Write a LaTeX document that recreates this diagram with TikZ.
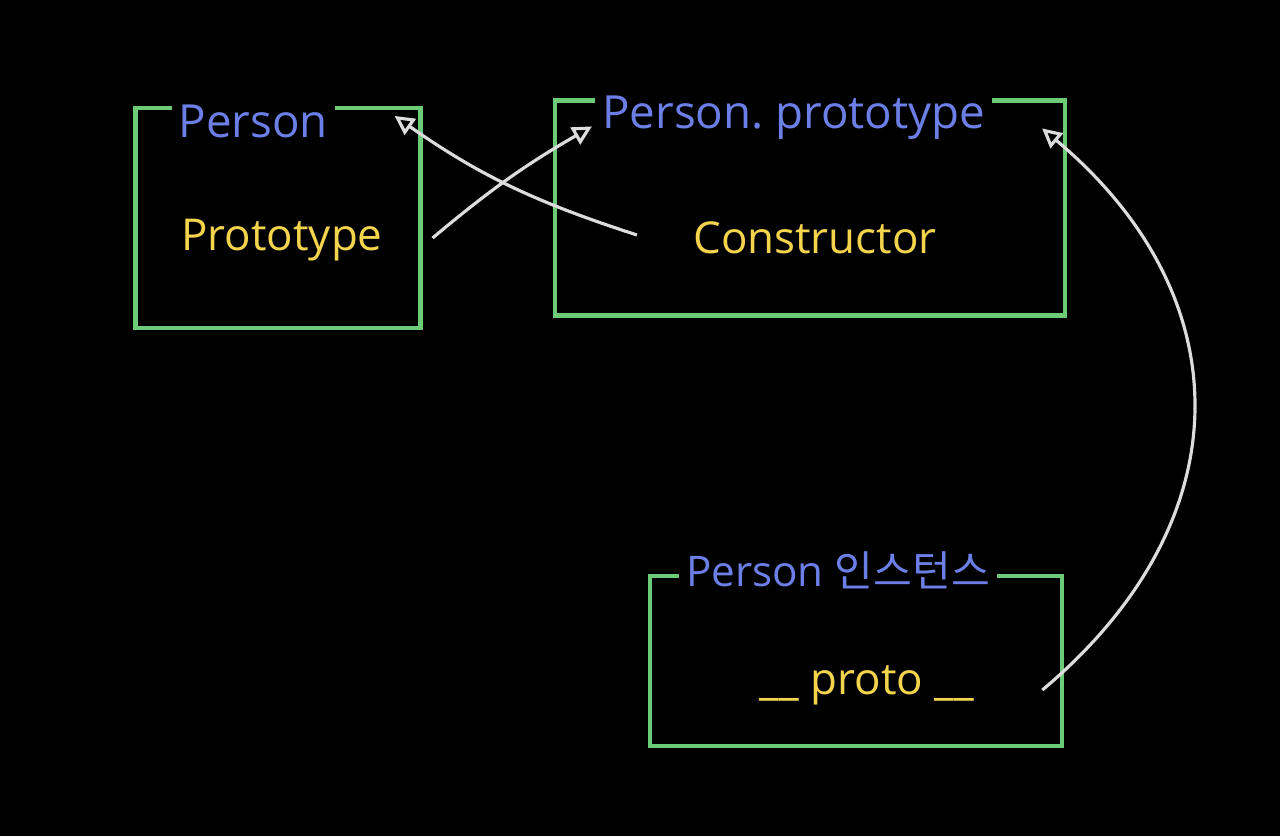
\documentclass[tikz,border=0pt]{standalone}
\usepackage{fontspec}
\setmainfont{Open Sans}
\newfontfamily\krfont{Noto Sans CJK KR}
\usetikzlibrary{positioning,arrows.meta}
\definecolor{boxgreen}{HTML}{6CCB77}
\definecolor{titleblue}{HTML}{6B7FE6}
\definecolor{propyellow}{HTML}{F4D44C}
\definecolor{linkgray}{HTML}{DCDCDC}

\begin{document}
\begin{tikzpicture}[x=0.02cm, y=-0.02cm,
    objbox/.style={draw=boxgreen, line width=2.4pt, rectangle},
    title/.style={fill=black, text=titleblue, inner sep=4pt, anchor=base west, font=\fontsize{26}{30}\selectfont},
    prop/.style={text=propyellow, font=\fontsize{25}{30}\selectfont},
    link/.style={draw=linkgray, line width=1.8pt, -{Triangle[open, length=11pt, width=11pt]}}]
    \fill[black] (0,0) rectangle (1280,836);

    % boxes
    \node (personbox) [objbox, minimum width=5.7cm, minimum height=4.4cm] at (278,218) {};
    \node (protobox) [objbox, minimum width=10.2cm, minimum height=4.3cm] at (810,208) {};
    \node (instbox) [objbox, minimum width=8.25cm, minimum height=3.4cm] at (856,661) {};

    % titles sit on the top edge
    \node (persontitle) [title] at ([shift={(38,32)}]personbox.north west) {Person};
    \node (prototitle) [title] at ([shift={(42,30)}]protobox.north west) {Person.\ prototype};
    \node (insttitle) [title, font=\fontsize{24}{28}\selectfont] at ([shift={(31,13)}]instbox.north west) {Person {\krfont 인스턴스}};

    % properties
    \node (protoprop) [prop] at ([shift={(4,22)}]personbox.center) {Prototype};
    \node (ctorprop) [prop] at ([shift={(5,30)}]protobox.center) {Constructor};
    \node (dunderprop) [prop] at ([shift={(11,24)}]instbox.center) {\_\_\ proto\ \_\_};

    % links
    \draw[link] ([shift={(10,20)}]personbox.east) to[out=40, in=210] ([shift={(39,28)}]protobox.north west);
    \draw[link] ([shift={(84,27)}]protobox.west) to[out=162, in=-35] ([shift={(-28,10)}]personbox.north east);
    \draw[link] ([shift={(-22,29)}]instbox.east) to[out=40, in=-40, looseness=1.2] ([shift={(-25,30)}]protobox.north east);
\end{tikzpicture}
\end{document}
